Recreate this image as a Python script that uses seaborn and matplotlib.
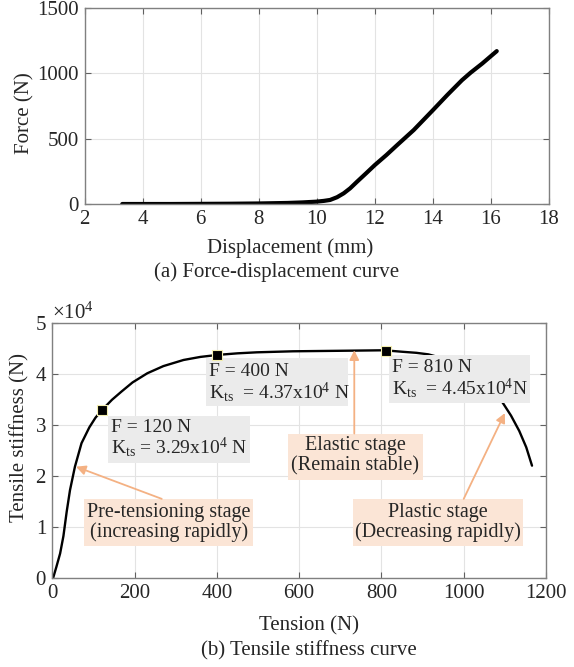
import numpy as np
import pandas as pd
import seaborn as sns
import matplotlib.pyplot as plt
from matplotlib.patches import Rectangle
from matplotlib.ticker import ScalarFormatter

# (a) force-displacement curve
disp = [3.3, 5, 7, 8, 9, 9.5, 10, 10.25, 10.46, 10.7, 10.93, 11.15, 11.39, 11.7, 12, 12.4, 12.77,
        13.34, 14, 14.5, 15, 15.3, 15.7, 16.2]
force = [0, 0, 2, 4, 8, 12, 18, 24, 31, 52, 82, 120, 171, 235, 298, 375, 451, 566, 718, 835, 947,
         1005, 1075, 1170]

# (b) tensile stiffness curve (x1e4 N)
tension = [2, 10, 19, 27, 30, 35, 43, 55, 71, 90, 105, 122, 145, 168, 195, 231, 270, 319, 360, 403,
           450, 497, 585, 700, 807, 852, 885, 914, 960, 1000, 1040, 1070, 1095, 1115, 1135, 1152, 1166]
stiffness = [0, 0.22, 0.48, 0.82, 1.0, 1.3, 1.72, 2.18, 2.64, 2.95, 3.14, 3.30, 3.49, 3.65, 3.83,
             4.01, 4.15, 4.27, 4.33, 4.37, 4.40, 4.42, 4.44, 4.45, 4.46, 4.43, 4.41, 4.38, 4.28,
             4.12, 3.90, 3.68, 3.43, 3.18, 2.88, 2.56, 2.20]

key_force = [120, 400, 810]
key_kts = [3.29, 4.37, 4.45]

df_a = pd.DataFrame({"disp": disp, "force": force})
df_b = pd.DataFrame({"tension": tension, "kts": np.array(stiffness) * 1e4})
df_k = pd.DataFrame({"tension": key_force, "kts": np.array(key_kts) * 1e4})

sns.set_style("whitegrid", {"grid.color": "#e3e3e3", "axes.edgecolor": "#808080",
                            "xtick.direction": "in", "ytick.direction": "in"})
plt.rcParams["font.family"] = ["Liberation Serif", "DejaVu Serif"]
plt.rcParams["mathtext.fontset"] = "custom"
plt.rcParams["mathtext.rm"] = "Liberation Serif"
plt.rcParams["mathtext.it"] = "Liberation Serif:italic"

W, H = 574, 667
fig = plt.figure(figsize=(W / 100, H / 100), dpi=100)

ax1 = fig.add_axes([84.5 / W, 1 - 204 / H, (549 - 84.5) / W, 196 / H])
ax2 = fig.add_axes([52.3 / W, 1 - 578 / H, (546 - 52.3) / W, (578 - 322.7) / H])

for ax in (ax1, ax2):
    ax.tick_params(axis="both", which="both", direction="in", length=4, width=0.8,
                   color="#606060", labelsize=15, top=True, right=True,
                   bottom=True, left=True, pad=4)
    for s in ax.spines.values():
        s.set_linewidth(1.0)
        s.set_color("#808080")
    ax.grid(True, color="#e3e3e3", linewidth=0.8)

# top panel
sns.lineplot(data=df_a, x="disp", y="force", ax=ax1, color="black", linewidth=3, sort=False)
ax1.set_xlim(2, 18)
ax1.set_ylim(0, 1500)
ax1.set_xticks(range(2, 19, 2))
ax1.set_yticks([0, 500, 1000, 1500])
ax1.set_xlabel("")
ax1.set_ylabel("")

fig.text(289.7 / W, 1 - 247.7 / H, "Displacement (mm)", ha="center", va="center", fontsize=15)
fig.text(276.5 / W, 1 - 272.6 / H, "(a) Force-displacement curve", ha="center", va="center", fontsize=15)
fig.text(25.3 / W, 1 - 113.4 / H, "Force (N)", ha="center", va="center", rotation=90, fontsize=15)

# bottom panel
sns.lineplot(data=df_b, x="tension", y="kts", ax=ax2, color="black", linewidth=1.7,
             sort=False, zorder=2)
sns.scatterplot(data=df_k, x="tension", y="kts", ax=ax2, marker="s", s=55, color="black",
                edgecolor="#f3eeb0", linewidth=0.8, zorder=5)
ax2.set_xlim(0, 1200)
ax2.set_ylim(0, 5e4)
ax2.set_xticks(range(0, 1201, 200))
ax2.set_yticks([0, 1e4, 2e4, 3e4, 4e4, 5e4])
fmt = ScalarFormatter(useMathText=True)
fmt.set_powerlimits((0, 0))
ax2.yaxis.set_major_formatter(fmt)
ax2.yaxis.get_offset_text().set_fontsize(15)
ax2.set_xlabel("")
ax2.set_ylabel("")

fig.text(309 / W, 1 - 626 / H, "Tension (N)", ha="center", va="center", fontsize=15)
fig.text(308.8 / W, 1 - 650.7 / H, "(b) Tensile stiffness curve", ha="center", va="center", fontsize=15)
fig.text(20.2 / W, 1 - 437.6 / H, "Tensile stiffness (N)", ha="center", va="center", rotation=90, fontsize=15)

gray = "#ebebeb"
peach = "#fbe5d6"
arrow_c = "#f4b183"

# gray value boxes: (x0, x1, y0, y1) in data units (stiffness x1e4)
gray_boxes = [
    (136, 481, 2.26, 3.18, 142, [2.94, 2.57], ["F = 120 N", "K$_{\\rm ts}$ = 3.29x10$^4$ N"]),
    (374, 718, 3.36, 4.30, 381, [4.04, 3.65], ["F = 400 N", "K$_{\\rm ts}$  = 4.37x10$^4$ N"]),
    (819, 1162, 3.43, 4.37, 825, [4.12, 3.72], ["F = 810 N", "K$_{\\rm ts}$  = 4.45x10$^4$N"]),
]
for x0, x1, y0, y1, tx, tys, lines in gray_boxes:
    ax2.add_patch(Rectangle((x0, y0 * 1e4), x1 - x0, (y1 - y0) * 1e4, facecolor=gray,
                            edgecolor="none", zorder=3))
    for ty, line in zip(tys, lines):
        ax2.text(tx, ty * 1e4, line, ha="left", va="center", fontsize=14, zorder=4)

peach_boxes = [
    (78, 489, 0.63, 1.55, 284, [1.29, 0.89], ["Pre-tensioning stage", "(increasing rapidly)"]),
    (572, 900, 1.92, 2.83, 736, [2.60, 2.19], ["Elastic stage", "(Remain stable)"]),
    (730, 1144, 0.63, 1.55, 937, [1.29, 0.89], ["Plastic stage", "(Decreasing rapidly)"]),
]
for x0, x1, y0, y1, tx, tys, lines in peach_boxes:
    ax2.add_patch(Rectangle((x0, y0 * 1e4), x1 - x0, (y1 - y0) * 1e4, facecolor=peach,
                            edgecolor="none", zorder=3))
    for ty, line in zip(tys, lines):
        ax2.text(tx, ty * 1e4, line, ha="center", va="center", fontsize=14.5, zorder=4)

arrows = [((266, 1.55), (57.6, 2.18)), ((734, 2.83), (734, 4.46)), ((1000, 1.55), (1100, 3.23))]
for (sx, sy), (ex, ey) in arrows:
    ax2.annotate("", xy=(ex, ey * 1e4), xytext=(sx, sy * 1e4),
                 arrowprops=dict(arrowstyle="-|>", color=arrow_c, lw=1.3,
                                 mutation_scale=14, shrinkA=0, shrinkB=0), zorder=4)

plt.savefig("out.png", dpi=100)
